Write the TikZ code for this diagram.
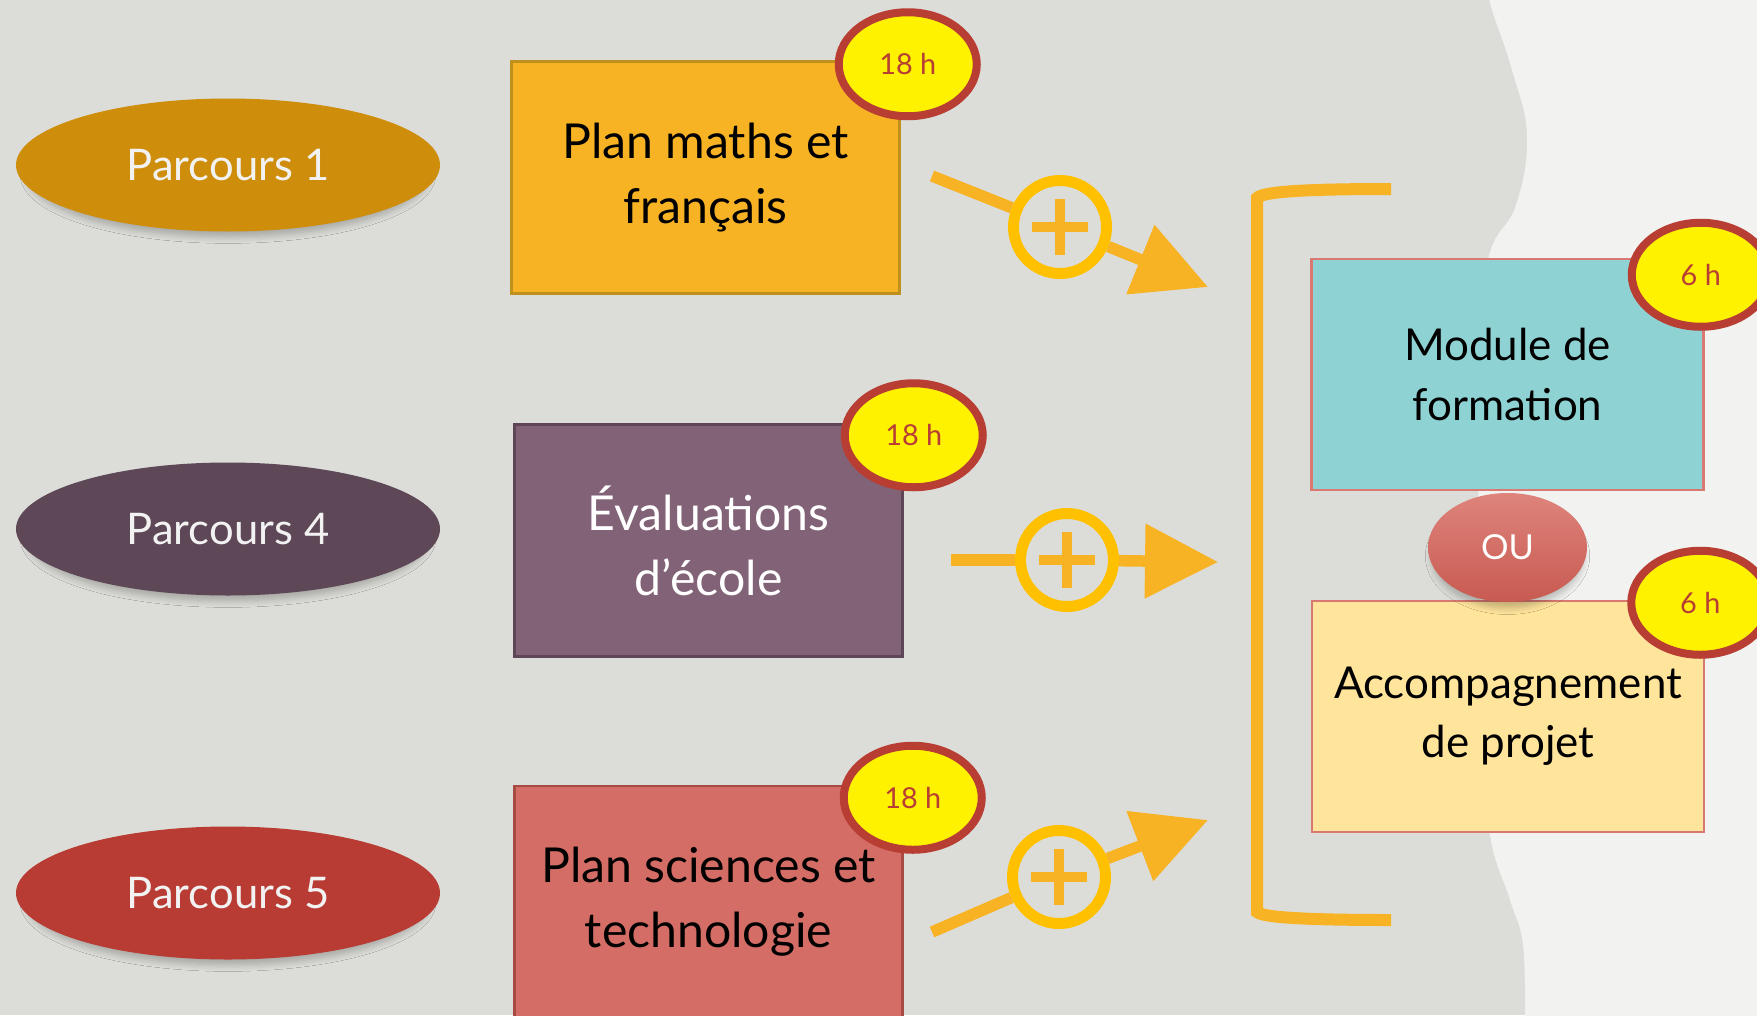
\documentclass[tikz,border=0pt]{standalone}
\usepackage{fontspec}
\setmainfont{Lato}
\usetikzlibrary{positioning,shapes.geometric,arrows.meta,shadows.blur}

\definecolor{bgGray}{HTML}{DCDDD8}
\definecolor{bgLight}{HTML}{F2F2F0}
\definecolor{parcoursA}{HTML}{CE8D0A}
\definecolor{parcoursB}{HTML}{5E4756}
\definecolor{parcoursC}{HTML}{B83C33}
\definecolor{mathsFill}{HTML}{F7B324}
\definecolor{mathsLine}{HTML}{C0901E}
\definecolor{evalFill}{HTML}{826276}
\definecolor{evalLine}{HTML}{5E4656}
\definecolor{sciFill}{HTML}{D46D66}
\definecolor{sciLine}{HTML}{A84A44}
\definecolor{moduleFill}{HTML}{8ED2D3}
\definecolor{accFill}{HTML}{FFE49B}
\definecolor{rightLine}{HTML}{DA7872}
\definecolor{badgeRed}{HTML}{B83E34}
\definecolor{arrowOrange}{HTML}{F7B323}
\definecolor{ringYellow}{HTML}{FFC000}
\definecolor{ouTop}{HTML}{DE847C}
\definecolor{ouBot}{HTML}{C85A51}

\begin{document}
\begin{tikzpicture}[x=0.1mm, y=-0.1mm,
  softshadow/.style={blur shadow={shadow xshift=0mm, shadow yshift=-0.9mm, shadow scale=0.95,
    shadow blur radius=0.7mm, shadow blur steps=8, shadow opacity=25}},
  parcours/.style={ellipse, minimum width=42.4mm, minimum height=13.3mm, inner sep=0pt,
    text=white!95!black, font=\fontsize{12.4}{12.4}\selectfont, softshadow},
  box/.style={rectangle, draw, line width=0.25mm, minimum width=38.8mm, minimum height=23.2mm,
    align=center, inner sep=0pt},
  rightbox/.style={box, draw=rightLine, minimum width=39.2mm, minimum height=23.1mm,
    font=\fontsize{12.5}{16.8}\selectfont},
  badge/.style={ellipse, draw=badgeRed, fill=yellow, line width=0.8mm, minimum width=13.8mm,
    minimum height=10.4mm, inner sep=0pt, text=badgeRed, font=\fontsize{8.2}{8.2}\selectfont},
  ouball/.style={ellipse, minimum width=15.9mm, minimum height=10.9mm, inner sep=0pt,
    top color=ouTop, bottom color=ouBot, text=white, font=\fontsize{9.8}{9.8}\selectfont,
    softshadow},
  plusring/.style={circle, draw=ringYellow, line width=1.1mm, minimum size=9.3mm, inner sep=0pt},
  plusbar/.style={arrowOrange, line width=1mm},
  shaft/.style={arrowOrange, line width=1.15mm},
  bracket/.style={arrowOrange, line width=1.2mm}]

\useasboundingbox (0,0) rectangle (1757,1015);

% background with the wavy light part on the right
\fill[bgGray] (0,0) rectangle (1757,1015);
\fill[bgLight] plot[smooth, tension=0.7] coordinates {(1488,-10) (1492,10) (1512,70) (1527,136)
  (1516,205) (1490,252) (1479,330) (1478,450) (1480,600) (1485,740) (1490,835) (1510,900)
  (1523,945) (1525,1025)} -- (1757,1025) -- (1757,-10) -- cycle;

\fontsize{13.7}{18.5}\selectfont

% parcours
\node [parcours, fill=parcoursA] (p1) at (228,165) {Parcours 1};
\node [parcours, fill=parcoursB] (p4) at (228,529) {Parcours 4};
\node [parcours, fill=parcoursC] (p5) at (228,893) {Parcours 5};

% plans
\node [box, fill=mathsFill, draw=mathsLine] (maths) at (705.5,177.5) {Plan maths et\\français};
\node [box, fill=evalFill, draw=evalLine, text=white] (evals) at (708.5,540.5) {Évaluations\\d’école};
\node [box, fill=sciFill, draw=sciLine] (sciences) at (708.5,902) {Plan sciences et\\technologie};

% bracket
\draw [bracket] (1391,189) .. controls (1300,189) and (1262,192) .. (1257,198) -- (1257,912)
  .. controls (1262,917) and (1300,920) .. (1391,920);

% right side
\node [rightbox, fill=moduleFill] (module) at (1507.5,374.5) {Module de\\formation};
\node [rightbox, fill=accFill] (accomp) at (1508,716.5) {Accompagnement\\de projet};
\node [ouball] (ou) at (1507.5,547.5) {OU};

% hours
\node [badge] (h1) at ([xshift=0.7mm, yshift=-0.4mm]maths.north east) {18 h};
\node [badge] (h2) at ([xshift=1mm, yshift=-1.2mm]evals.north east) {18 h};
\node [badge] (h3) at ([xshift=0.9mm, yshift=-1.3mm]sciences.north east) {18 h};
\node [badge] (h6a) at ([xshift=-0.4mm, yshift=-1.7mm]module.north east) {6 h};
\node [badge] (h6b) at ([xshift=-0.5mm, yshift=-0.3mm]accomp.north east) {6 h};

% plus arrows
\node [plusring] (plus1) at (1060,227) {};
\node [plusring] (plus2) at (1067,560) {};
\node [plusring] (plus3) at (1059,877) {};
\coordinate (s1) at (932,176);
\coordinate (s2) at (951,560);
\coordinate (s3) at (932,932);
\coordinate (t1) at (1208,287);
\coordinate (t2) at (1218,562);
\coordinate (t3) at (1208,820);

\draw [shaft] (s1) -- (plus1);
\draw [shaft, -{Triangle[length=7.3mm, width=7.2mm]}] (plus1) -- (t1);
\draw [shaft] (s2) -- (plus2);
\draw [shaft, -{Triangle[length=7.3mm, width=7.2mm]}] (plus2) -- (t2);
\draw [shaft] (s3) -- (plus3);
\draw [shaft, -{Triangle[length=7.3mm, width=7.2mm]}] (plus3) -- (t3);

\draw [plusbar] ([xshift=-2.8mm]plus1.center) -- ([xshift=2.8mm]plus1.center);
\draw [plusbar] ([yshift=-2.8mm]plus1.center) -- ([yshift=2.8mm]plus1.center);
\draw [plusbar] ([xshift=-2.8mm]plus2.center) -- ([xshift=2.8mm]plus2.center);
\draw [plusbar] ([yshift=-2.8mm]plus2.center) -- ([yshift=2.8mm]plus2.center);
\draw [plusbar] ([xshift=-2.8mm]plus3.center) -- ([xshift=2.8mm]plus3.center);
\draw [plusbar] ([yshift=-2.8mm]plus3.center) -- ([yshift=2.8mm]plus3.center);

\end{tikzpicture}
\end{document}
